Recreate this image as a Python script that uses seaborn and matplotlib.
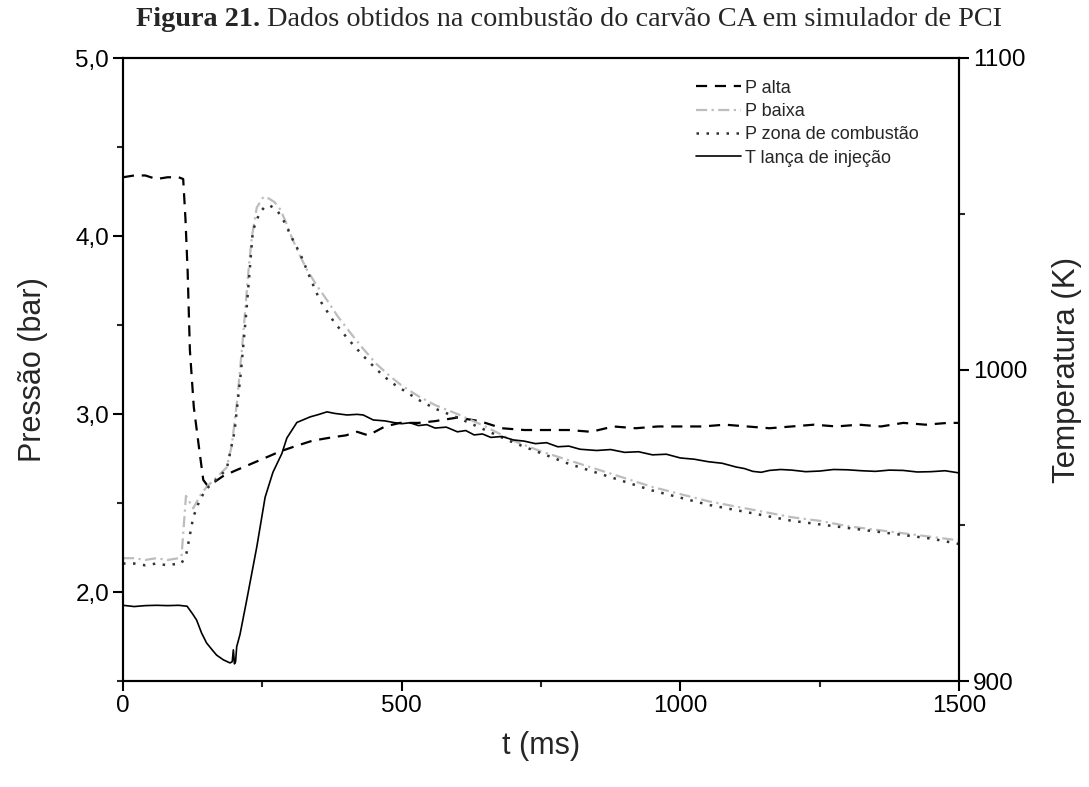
import matplotlib
matplotlib.use("Agg")
import matplotlib.pyplot as plt
from matplotlib.ticker import MultipleLocator, FixedLocator, FuncFormatter
import seaborn as sns

# Pressure, high-pressure line (bar)
t_alta = [0, 20, 40, 60, 80, 100, 108, 112, 116, 120, 127, 136, 144, 151, 165, 179,
          200, 230, 260, 282, 310, 340, 377, 400, 420, 440, 470, 497, 530, 560, 600,
          640, 680, 720, 760, 800, 840, 880, 920, 960, 1000, 1040, 1080, 1120, 1160,
          1200, 1240, 1280, 1320, 1360, 1400, 1440, 1480, 1500]
p_alta = [4.33, 4.34, 4.34, 4.32, 4.33, 4.33, 4.32, 4.10, 3.80, 3.36, 3.04, 2.82, 2.63, 2.60, 2.62, 2.65,
          2.68, 2.72, 2.76, 2.79, 2.82, 2.85, 2.87, 2.88, 2.90, 2.88, 2.93, 2.95, 2.95, 2.96, 2.98,
          2.96, 2.92, 2.91, 2.91, 2.91, 2.90, 2.93, 2.92, 2.93, 2.93, 2.93, 2.94, 2.93, 2.92,
          2.93, 2.94, 2.93, 2.94, 2.93, 2.95, 2.94, 2.95, 2.95]

# Pressure, low-pressure line (bar)
t_baixa = [0, 20, 40, 60, 80, 100, 105, 113, 126, 138, 150, 170, 186, 195, 205, 215, 225,
           231, 240, 252, 262, 272, 282, 292, 303, 316, 330, 348, 366, 385, 407, 430, 455,
           480, 500, 530, 560, 600, 650, 700, 750, 800, 850, 900, 950, 1000, 1050, 1100,
           1150, 1200, 1250, 1300, 1350, 1400, 1450, 1500]
p_baixa = [2.19, 2.19, 2.18, 2.19, 2.18, 2.19, 2.20, 2.54, 2.47, 2.54, 2.59, 2.65, 2.70, 2.82, 3.08, 3.42, 3.80,
           3.99, 4.16, 4.22, 4.21, 4.19, 4.15, 4.08, 3.99, 3.90, 3.81, 3.72, 3.64, 3.55, 3.46, 3.37, 3.28,
           3.21, 3.16, 3.10, 3.05, 3.00, 2.93, 2.85, 2.79, 2.74, 2.69, 2.64, 2.59, 2.55, 2.51, 2.48,
           2.45, 2.42, 2.40, 2.37, 2.35, 2.33, 2.31, 2.29]

# Pressure in the combustion zone (bar)
t_zona = [0, 20, 40, 60, 80, 100, 105, 114, 126, 138, 150, 170, 186, 200, 212, 222, 233,
          245, 256, 264, 275, 286, 294, 306, 318, 335, 353, 378, 404, 430, 455, 480, 500,
          530, 560, 600, 650, 700, 750, 800, 850, 900, 950, 1000, 1050, 1100, 1150, 1200,
          1250, 1300, 1350, 1400, 1450, 1500]
p_zona = [2.16, 2.16, 2.15, 2.16, 2.15, 2.16, 2.16, 2.22, 2.42, 2.52, 2.58, 2.64, 2.69, 2.90, 3.25, 3.60, 4.03,
          4.13, 4.17, 4.17, 4.15, 4.10, 4.05, 3.97, 3.90, 3.77, 3.64, 3.52, 3.42, 3.33, 3.25, 3.18, 3.14,
          3.08, 3.03, 2.98, 2.91, 2.84, 2.78, 2.72, 2.67, 2.62, 2.57, 2.53, 2.49, 2.46, 2.43, 2.40,
          2.38, 2.36, 2.34, 2.32, 2.30, 2.27]

# Temperature at the injection lance (K)
t_lanca = [0, 20, 40, 60, 80, 100, 115, 125, 132, 141, 150, 160, 168, 180, 192, 196, 198,
           200, 202, 204, 210, 222, 240, 255, 269, 285, 294, 312, 336, 350, 366, 380, 402,
           420, 431, 449, 470, 485, 500, 515, 530, 545, 560, 580, 600, 615, 630, 645, 660,
           680, 700, 720, 740, 760, 780, 800, 820, 850, 875, 900, 925, 950, 975, 1000,
           1025, 1050, 1075, 1100, 1115, 1130, 1145, 1160, 1180, 1200, 1225, 1250, 1275,
           1300, 1325, 1350, 1375, 1400, 1425, 1450, 1475, 1500]
temp_lanca = [924.3, 923.9, 924.2, 924.3, 924.2, 924.3, 924.0, 921.5, 919.6, 915.4, 912.2, 910.0, 908.3, 906.8, 905.8, 906.2, 910.0,
              905.5, 906.2, 911.0, 915.0, 926.0, 943.0, 959.0, 967.0, 973.0, 978.0, 983.0, 984.8, 985.5, 986.4, 985.9, 985.4,
              985.6, 985.4, 983.8, 983.5, 983.0, 982.6, 982.9, 982.0, 982.3, 981.2, 981.5, 980.0, 980.4, 979.0, 979.3, 978.2,
              978.5, 977.4, 977.0, 976.2, 976.5, 975.2, 975.4, 974.4, 974.0, 974.3, 973.4, 973.6, 972.6, 972.8, 971.6,
              971.2, 970.4, 969.9, 968.7, 968.2, 967.3, 967.0, 967.6, 967.9, 967.7, 967.2, 967.4, 967.9,
              967.8, 967.5, 967.3, 967.7, 967.6, 967.1, 967.2, 967.5, 966.8]

label_alta = "P alta"
label_baixa = "P baixa"
label_zona = "P zona de combustão"
label_lanca = "T lança de injeção"

sns.set_style("ticks")
plt.rcParams["font.family"] = ["Liberation Sans", "DejaVu Sans"]

fig = plt.figure(figsize=(10.89, 7.87), dpi=100)
ax = fig.add_axes([123 / 1089, 1 - 681 / 787, 836 / 1089, 623 / 787])
ax2 = ax.twinx()

sns.lineplot(x=t_alta, y=p_alta, ax=ax, color="black", lw=1.6,
             linestyle=(0, (5, 3.5)), label=label_alta, legend=False, sort=False)
sns.lineplot(x=t_baixa, y=p_baixa, ax=ax, color="#bdbdbd", lw=1.6,
             linestyle=(0, (5, 2, 1, 2)), label=label_baixa, legend=False, sort=False)
sns.lineplot(x=t_zona, y=p_zona, ax=ax, color="#333333", lw=1.8,
             linestyle=(0, (1, 3.0)), label=label_zona, legend=False, sort=False)
sns.lineplot(x=t_lanca, y=temp_lanca, ax=ax2, color="black", lw=1.2,
             label=label_lanca, legend=False, sort=False)

ax.set_xlim(0, 1500)
ax.set_ylim(1.5, 5.0)
ax2.set_ylim(900, 1100)

ax.xaxis.set_major_locator(MultipleLocator(500))
ax.xaxis.set_minor_locator(MultipleLocator(250))
ax.yaxis.set_major_locator(FixedLocator([2.0, 3.0, 4.0, 5.0]))
ax.yaxis.set_minor_locator(MultipleLocator(0.5))
ax.yaxis.set_major_formatter(FuncFormatter(lambda v, p: f"{v:.1f}".replace(".", ",")))
ax2.yaxis.set_major_locator(MultipleLocator(100))
ax2.yaxis.set_minor_locator(MultipleLocator(50))

for a in (ax, ax2):
    for s in a.spines.values():
        s.set_visible(True)
        s.set_linewidth(1.5)
        s.set_color("black")
    a.tick_params(which="major", direction="out", length=7, width=1.5,
                  labelsize=17.5, colors="black", pad=3)
    a.tick_params(which="minor", direction="out", length=4, width=1.5)
ax.tick_params(top=False, which="both")
ax2.tick_params(top=False, which="both")

ax.set_xlabel("t (ms)", fontsize=22, labelpad=10)
ax.set_ylabel("Pressão (bar)", fontsize=22, labelpad=20)
ax2.set_ylabel("Temperatura (K)", fontsize=22.5, labelpad=18)

h1, l1 = ax.get_legend_handles_labels()
h2, l2 = ax2.get_legend_handles_labels()
ax2.legend(h1 + h2, l1 + l2, loc="upper left", bbox_to_anchor=(0.685, 0.965),
           frameon=False, fontsize=13, handlelength=2.5, handletextpad=0.25,
           labelspacing=0.35, borderpad=0, borderaxespad=0)

# Figure caption: bold number followed by regular text
fig.canvas.draw()
renderer = fig.canvas.get_renderer()
cap_y = 1 - 19 / 787
t1 = fig.text(0, cap_y, "Figura 21.", family="Liberation Serif", weight="bold",
              fontsize=20.3, va="center", ha="left")
t2 = fig.text(0, cap_y, " Dados obtidos na combustão do carvão CA em simulador de PCI",
              family="Liberation Serif", fontsize=20.3, va="center", ha="left")
w1 = t1.get_window_extent(renderer).width
w2 = t2.get_window_extent(renderer).width
start_px = 569 - (w1 + w2) / 2
t1.set_x(start_px / 1089)
t2.set_x((start_px + w1) / 1089)

fig.savefig("out.png", dpi=100)
